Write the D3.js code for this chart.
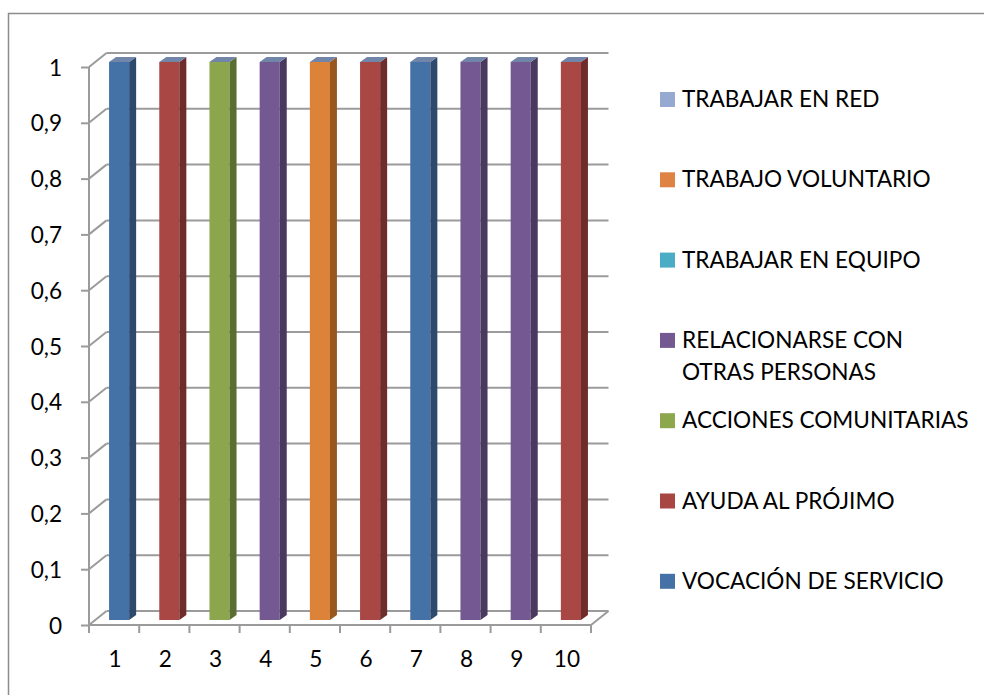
<!DOCTYPE html>
<html>
<head>
<meta charset="utf-8">
<script src="https://cdn.jsdelivr.net/npm/d3@7"></script>
<style>
  html, body { margin: 0; padding: 0; background: #fff; }
  svg { display: block; }
  text { font-family: Lato, "Open Sans", sans-serif; fill: #000; }
</style>
</head>
<body>
<svg id="chart" width="984" height="695"></svg>
<script>
// ---------- DATA ----------
const categories = ["1","2","3","4","5","6","7","8","9","10"];
const seriesNames = [
  "VOCACIÓN DE SERVICIO",
  "AYUDA AL PRÓJIMO",
  "ACCIONES COMUNITARIAS",
  "RELACIONARSE CON OTRAS PERSONAS",
  "TRABAJAR EN EQUIPO",
  "TRABAJO VOLUNTARIO",
  "TRABAJAR EN RED"
];
const vocacionDeServicio   = [1,0,0,0,0,0,1,0,0,0];
const ayudaAlProjimo       = [0,1,0,0,0,1,0,0,0,1];
const accionesComunitarias = [0,0,1,0,0,0,0,0,0,0];
const relacionarse         = [0,0,0,1,0,0,0,1,1,0];
const trabajarEnEquipo     = [0,0,0,0,0,0,0,0,0,0];
const trabajoVoluntario    = [0,0,0,0,1,0,0,0,0,0];
const trabajarEnRed        = [0,0,0,0,0,0,0,0,0,0];
const seriesValues = [vocacionDeServicio, ayudaAlProjimo, accionesComunitarias,
  relacionarse, trabajarEnEquipo, trabajoVoluntario, trabajarEnRed];
const yTicks = [0,0.1,0.2,0.3,0.4,0.5,0.6,0.7,0.8,0.9,1];

// ---------- STYLE ----------
const frontColors = ["#4472A6","#A94744","#8BA64C","#735892","#4BACC6","#DD8239","#95A9D1"];
const sideColors  = ["#2D4A6E","#6E2C2B","#5B6E31","#4A395F","#2F7386","#97571F","#60708F"];
const topColor = "#7085A8";
const legendColors = ["#4472A6","#A84644","#8CA74C","#735892","#4BACC6","#DE8344","#95A9D1"];
const gridColor = "#9B9B9B";
const FONT = 22.6;

const svg = d3.select("#chart");

// outer frame
svg.append("rect").attr("x", 8.5).attr("y", 13.5).attr("width", 1000).attr("height", 700)
  .attr("fill", "none").attr("stroke", "#8C8C8C").attr("stroke-width", 1.5);

// scales
const x = d3.scaleBand().domain(categories).range([89, 591]).padding(0);
const y = d3.scaleLinear().domain([0, 1]).range([625, 67]);
const DX = 17.5, DY = 14;           // wall depth
const barW = x.bandwidth() * 0.4;
const BOX = 5, BOY = 5;             // bar front offset into depth
const SDX = 7, SDY = 5;             // bar side depth

const grid = svg.append("g").attr("stroke", gridColor).attr("stroke-width", 2).attr("fill", "none");
// back wall gridlines + left wall diagonals
yTicks.forEach(t => {
  grid.append("line").attr("x1", x.range()[0] + DX).attr("x2", x.range()[1] + DX)
    .attr("y1", y(t) - DY).attr("y2", y(t) - DY);
  grid.append("line").attr("x1", x.range()[0]).attr("x2", x.range()[0] + DX)
    .attr("y1", y(t)).attr("y2", y(t) - DY);
});
// floor right edge
grid.append("line").attr("x1", x.range()[1]).attr("x2", x.range()[1] + DX)
  .attr("y1", y(0)).attr("y2", y(0) - DY);

// bars (stacked)
const table = categories.map((c, i) => {
  const row = { cat: c };
  seriesNames.forEach((s, j) => row[s] = seriesValues[j][i]);
  return row;
});
const stacked = d3.stack().keys(seriesNames)(table);
const barsG = svg.append("g");
stacked.forEach((layer, si) => {
  layer.forEach(d => {
    if (d[1] - d[0] <= 0) return;
    const bx = x(d.data.cat) + (x.bandwidth() - barW) / 2 + BOX;
    const yTop = y(d[1]) - BOY, yBot = y(d[0]) - BOY;
    barsG.append("rect").attr("x", bx).attr("y", yTop).attr("width", barW).attr("height", yBot - yTop)
      .attr("fill", frontColors[si]);
    barsG.append("polygon")
      .attr("points", [[bx + barW, yTop], [bx + barW + SDX, yTop - SDY], [bx + barW + SDX, yBot - SDY], [bx + barW, yBot]].join(" "))
      .attr("fill", sideColors[si]);
    barsG.append("polygon")
      .attr("points", [[bx, yTop], [bx + SDX, yTop - SDY], [bx + barW + SDX, yTop - SDY], [bx + barW, yTop]].join(" "))
      .attr("fill", topColor);
  });
});

// y axis
const fmt = v => String(+v.toFixed(1)).replace(".", ",");
const yAxis = svg.append("g").attr("transform", `translate(${x.range()[0]},0)`)
  .call(d3.axisLeft(y).tickValues(yTicks).tickFormat(fmt).tickSize(8).tickPadding(19));
yAxis.selectAll("path, line").attr("stroke", gridColor).attr("stroke-width", 2);
yAxis.select(".domain").attr("d", `M0,${y(0)}V${y(1)}`);
yAxis.selectAll("text").attr("font-size", FONT).attr("font-family", "Lato").attr("dy", "0.36em");

// x axis
const xAxis = svg.append("g").attr("transform", `translate(0,${y(0)})`)
  .call(d3.axisBottom(x).tickSize(0).tickPadding(26));
xAxis.select(".domain").remove();
xAxis.selectAll("text").attr("font-size", FONT).attr("font-family", "Lato").attr("dx", 1);
const xTickG = svg.append("g").attr("stroke", gridColor).attr("stroke-width", 2);
xTickG.append("line").attr("x1", x.range()[0]).attr("x2", x.range()[1]).attr("y1", y(0)).attr("y2", y(0));
categories.concat([null]).forEach((c, i) => {
  const xp = x.range()[0] + i * x.step();
  xTickG.append("line").attr("x1", xp).attr("x2", xp).attr("y1", y(0)).attr("y2", y(0) + 8);
});

// legend (reverse order, top to bottom)
const legendOrder = d3.range(seriesNames.length).reverse();
const legendLines = {
  "RELACIONARSE CON OTRAS PERSONAS": ["RELACIONARSE CON", "OTRAS PERSONAS"]
};
const leg = svg.append("g");
legendOrder.forEach((si, k) => {
  const base = 107 + k * 80.3;
  leg.append("rect").attr("x", 660).attr("y", base - 15).attr("width", 15).attr("height", 15)
    .attr("fill", legendColors[si]);
  const lines = legendLines[seriesNames[si]] || [seriesNames[si]];
  lines.forEach((ln, li) => {
    leg.append("text").attr("x", 682).attr("y", base + li * 32.3)
      .attr("font-size", FONT).text(ln);
  });
});
</script>
</body>
</html>
